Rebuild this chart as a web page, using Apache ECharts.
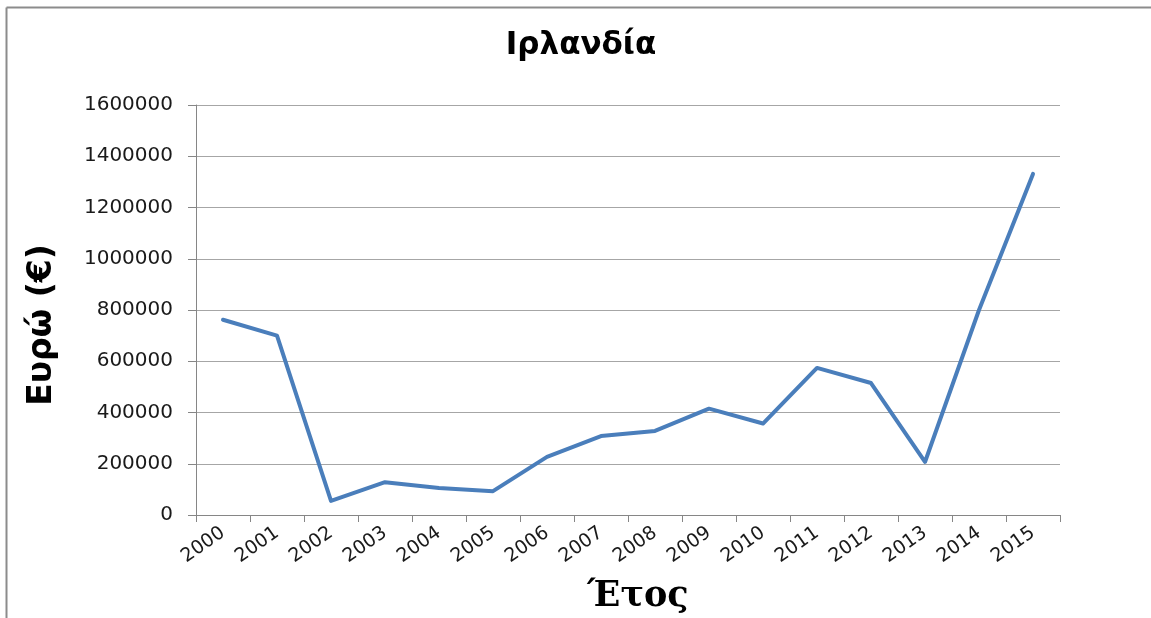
<!DOCTYPE html>
<html>
<head>
<meta charset="utf-8">
<script src="https://cdn.jsdelivr.net/npm/echarts@6/dist/echarts.min.js"></script>
<style>html,body{margin:0;padding:0;background:#fff;overflow:hidden;}#c{width:1151px;height:618px;}</style>
</head>
<body>
<div id="c"></div>
<script>
const years = ['2000','2001','2002','2003','2004','2005','2006','2007','2008','2009','2010','2011','2012','2013','2014','2015'];
const values = [762000, 700000, 55000, 128000, 105000, 93000, 227000, 308000, 328000, 415000, 357000, 574000, 515000, 207000, 800000, 1331000];
const titleText = 'Ιρλανδία';
const yTitle = 'Ευρώ (€)';
const xTitle = 'Έτος';

const chart = echarts.init(document.getElementById('c'), null, {renderer: 'canvas', width: 1151, height: 618});
chart.setOption({
  animation: false,
  backgroundColor: '#fff',
  graphic: [
    {type: 'line', shape: {x1: 6.5, y1: 7.5, x2: 6.5, y2: 700}, style: {stroke: '#8c8c8c', lineWidth: 2}, silent: true},
    {type: 'line', shape: {x1: 6.5, y1: 7.5, x2: 1151, y2: 7.5}, style: {stroke: '#8c8c8c', lineWidth: 2}, silent: true},
    {type: 'text', x: 581, y: 46, silent: true,
      style: {text: titleText, fontFamily: 'DejaVu Sans', fontWeight: 'bold', fontSize: 31, fill: '#000', align: 'center', verticalAlign: 'middle'}},
    {type: 'text', x: 42, y: 325, rotation: Math.PI / 2, silent: true,
      style: {text: yTitle, fontFamily: 'DejaVu Sans', fontWeight: 'bold', fontSize: 33, fill: '#000', align: 'center', verticalAlign: 'middle'}},
    {type: 'text', x: 638, y: 597, silent: true,
      style: {text: xTitle, fontFamily: 'DejaVu Serif', fontWeight: 'bold', fontSize: 35, fill: '#000', align: 'center', verticalAlign: 'middle'}}
  ],
  grid: {left: 196, width: 864, top: 105, height: 410, containLabel: false},
  xAxis: {
    type: 'category', data: years, boundaryGap: true,
    axisLine: {lineStyle: {color: '#868686', width: 1}},
    axisTick: {show: true, length: 7, interval: 0, lineStyle: {color: '#868686'}},
    axisLabel: {rotate: 35, interval: 0, fontFamily: 'DejaVu Sans', fontSize: 19, color: '#1a1a1a', margin: 16}
  },
  yAxis: {
    type: 'value', min: 0, max: 1600000, interval: 200000,
    axisLine: {show: true, lineStyle: {color: '#868686', width: 1}},
    axisTick: {show: true, length: 8, lineStyle: {color: '#868686'}},
    splitLine: {lineStyle: {color: '#a6a6a6', width: 1}},
    axisLabel: {fontFamily: 'DejaVu Sans', fontSize: 20, color: '#1a1a1a', margin: 23,
      formatter: function (v) { return String(v); }}
  },
  series: [{
    type: 'line', data: values, showSymbol: false, symbol: 'none',
    lineStyle: {color: '#4a7ebb', width: 4, cap: 'round', join: 'round'},
    itemStyle: {color: '#4a7ebb'}
  }]
});
</script>
</body>
</html>
